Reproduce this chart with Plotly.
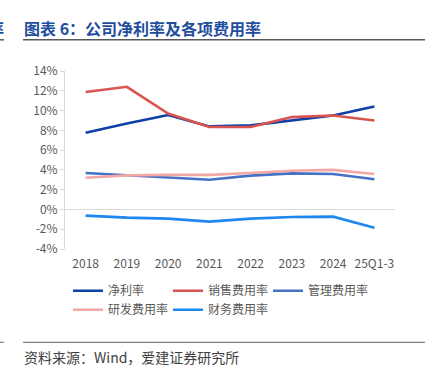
import plotly.graph_objects as go

categories = ["2018", "2019", "2020", "2021", "2022", "2023", "2024", "25Q1-3"]
net_margin = [7.76, 8.7, 9.55, 8.4, 8.5, 9.0, 9.5, 10.4]
sales_exp = [11.87, 12.4, 9.7, 8.33, 8.33, 9.34, 9.5, 9.0]
admin_exp = [3.69, 3.45, 3.28, 3.0, 3.42, 3.65, 3.58, 3.05]
rd_exp = [3.2, 3.45, 3.5, 3.5, 3.69, 3.92, 4.0, 3.58]
fin_exp = [-0.62, -0.83, -0.93, -1.23, -0.93, -0.76, -0.73, -1.84]
y_ticks = [-4, -2, 0, 2, 4, 6, 8, 10, 12, 14]

series = [
    ("净利率", net_margin, "#0d3fa6"),
    ("销售费用率", sales_exp, "#d9534f"),
    ("管理费用率", admin_exp, "#4472c4"),
    ("研发费用率", rd_exp, "#f4a7a7"),
    ("财务费用率", fin_exp, "#1e88f0"),
]

W, H = 428, 388
L, R, T, B = 65, 395, 70.7, 248.7
FONT = "Noto Sans CJK SC, Microsoft YaHei, sans-serif"

def px(x):
    return (x - L) / (R - L)

def py(y):
    return (B - y) / (B - T)

fig = go.Figure()
for name, vals, color in series:
    fig.add_trace(go.Scatter(x=categories, y=vals, name=name, mode="lines",
                             line=dict(color=color, width=2.6)))

fig.update_layout(
    width=W, height=H,
    margin=dict(l=L, r=W - R, t=T, b=H - B),
    paper_bgcolor="white", plot_bgcolor="white",
    font=dict(family=FONT, size=12, color="#595959"),
    showlegend=True,
    legend=dict(orientation="h", x=px(68), xanchor="left", y=py(276), yanchor="top",
                entrywidth=55, entrywidthmode="pixels", tracegroupgap=0,
                font=dict(size=12, color="#595959"), bgcolor="rgba(0,0,0,0)"),
    xaxis=dict(type="category", range=[-0.5, len(categories) - 0.5],
               showgrid=False, showline=False, zeroline=False,
               ticks="", tickfont=dict(size=12, color="#595959"), ticklabelstandoff=6),
    yaxis=dict(range=[-4, 14], tickvals=y_ticks, ticktext=[f"{v}%" for v in y_ticks],
               showgrid=False, showline=True, linecolor="#d9d9d9", linewidth=1,
               ticks="outside", ticklen=4, tickcolor="#d9d9d9",
               zeroline=True, zerolinecolor="#d9d9d9", zerolinewidth=1,
               tickfont=dict(size=12, color="#595959")),
)

# Title
fig.add_annotation(text="<b>图表 6：公司净利率及各项费用率</b>", xref="paper", yref="paper",
                   x=px(22), y=py(28), xanchor="left", yanchor="middle", showarrow=False,
                   font=dict(family=FONT, size=16, color="#1f4e9e"))
fig.add_annotation(text="<b>率</b>", xref="paper", yref="paper",
                   x=px(6), y=py(28), xanchor="right", yanchor="middle", showarrow=False,
                   font=dict(family=FONT, size=16, color="#1f4e9e"))
# Rules
for y0, c, w in [(39.5, "#595959", 1.5), (342, "#7f7f7f", 1.2)]:
    fig.add_shape(type="line", xref="paper", yref="paper", x0=px(23), x1=px(425),
                  y0=py(y0), y1=py(y0), line=dict(color=c, width=w))
    fig.add_shape(type="line", xref="paper", yref="paper", x0=px(0), x1=px(4),
                  y0=py(y0), y1=py(y0), line=dict(color=c, width=w))
# Source
fig.add_annotation(text="资料来源：Wind，爱建证券研究所", xref="paper", yref="paper",
                   x=px(22), y=py(357), xanchor="left", yanchor="middle", showarrow=False,
                   font=dict(family=FONT, size=14, color="#404040"))

fig.write_html("out.html", config={"displayModeBar": False},
               post_script="document.body.style.margin='0';")
